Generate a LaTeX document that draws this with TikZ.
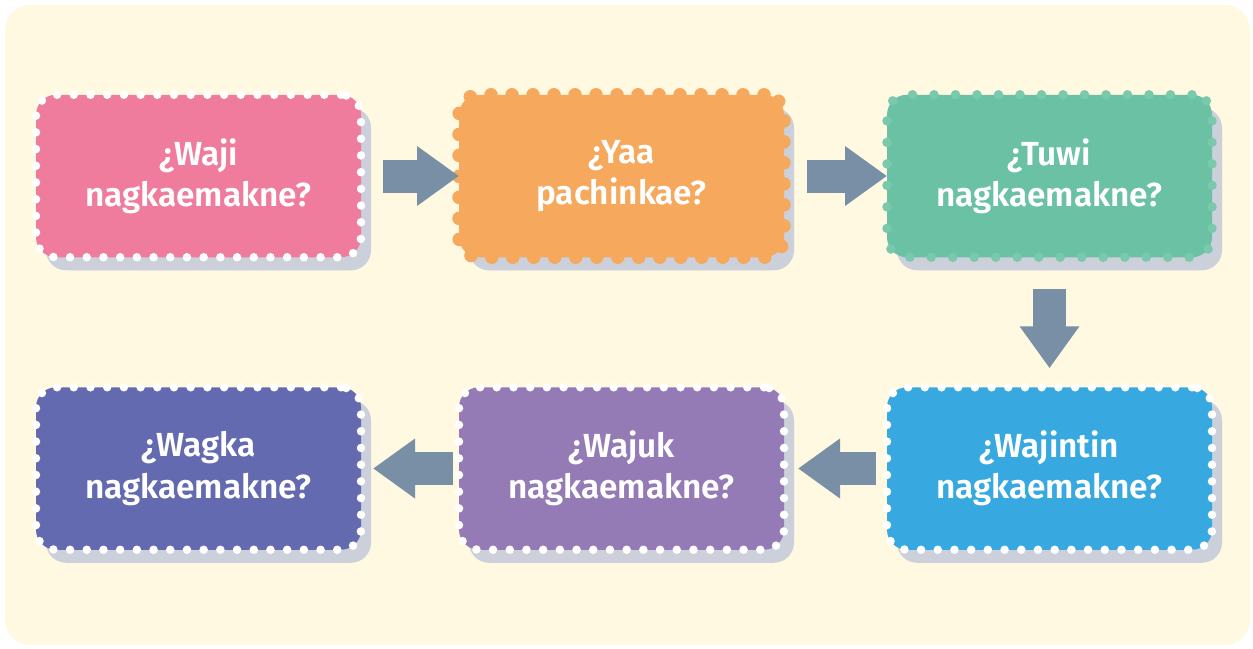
\documentclass[tikz,border=0pt]{standalone}
\usepackage{fontspec}
\usepackage{xcolor}
\usepackage{tikz}
\usetikzlibrary{positioning,arrows.meta,shadows}
\newfontfamily\boxfont{Fira Sans}[UprightFont=* SemiBold]

\definecolor{bgyellow}{HTML}{FFF9E2}
\definecolor{shadowgray}{HTML}{CBD0DA}
\definecolor{arrowgray}{HTML}{788FA6}
\definecolor{pinkbox}{HTML}{EF7C9C}
\definecolor{orangebox}{HTML}{F6A85C}
\definecolor{greenbox}{HTML}{6BC1A3}
\definecolor{greendot}{HTML}{7BC9AD}
\definecolor{bluebox}{HTML}{38A9E0}
\definecolor{purplebox}{HTML}{957BB5}
\definecolor{indigobox}{HTML}{646AAF}

\begin{document}
\begin{tikzpicture}[auto, node distance=1.96cm,
        qbox/.style={rectangle, rounded corners=0.4cm, minimum width=6.5cm, minimum height=3.25cm,
            outer sep=0pt, align=center, text=white,
            font=\boxfont\fontsize{19}{23.5}\selectfont,
            drop shadow={shadow xshift=0.2cm, shadow yshift=-0.26cm, fill=shadowgray, opacity=1}},
        dots/.style={draw=white, line width=0.17cm, line cap=round, dash pattern=on 0pt off 0.334cm},
        bigarrow/.style={draw=arrowgray, line width=0.66cm, -{Triangle[length=0.84cm, width=1.14cm]}}
    ]
        \useasboundingbox (0,0) rectangle (25.06,-12.96);
        \fill[bgyellow, rounded corners=0.5cm] (0.1,-0.1) rectangle (25.0,-12.9);

        % Top row
        \node [qbox, dots, fill=pinkbox] (waji) at (3.97,-3.52) {¿Waji\\nagkaemakne?};
        \node [qbox, fill=orangebox, draw=orangebox, line width=0.27cm, line cap=round,
            dash pattern=on 0pt off 0.42cm, right=of waji] (yaa) {¿Yaa\\pachinkae?};
        \node [qbox, fill=greenbox, draw=greendot, line width=0.19cm, line cap=round,
            dash pattern=on 0pt off 0.43cm, right=2.06cm of yaa] (tuwi) {¿Tuwi\\nagkaemakne?};

        % Bottom row
        \node [qbox, dots, fill=bluebox, below=2.6cm of tuwi] (wajintin) {¿Wajintin\\nagkaemakne?};
        \node [qbox, dots, fill=purplebox, left=2.06cm of wajintin] (wajuk) {¿Wajuk\\nagkaemakne?};
        \node [qbox, dots, fill=indigobox, left=of wajuk] (wagka) {¿Wagka\\nagkaemakne?};

        \draw [bigarrow, shorten <=0.44cm] (waji) -- (yaa);
        \draw [bigarrow, shorten <=0.46cm] (yaa) -- (tuwi);
        \draw [bigarrow, shorten <=0.64cm, shorten >=0.38cm] (tuwi) -- (wajintin);
        \draw [bigarrow, shorten <=0.22cm, shorten >=0.28cm] (wajintin) -- (wajuk);
        \draw [bigarrow, shorten <=0.12cm, shorten >=0.24cm] (wajuk) -- (wagka);
    \end{tikzpicture}
\end{document}
